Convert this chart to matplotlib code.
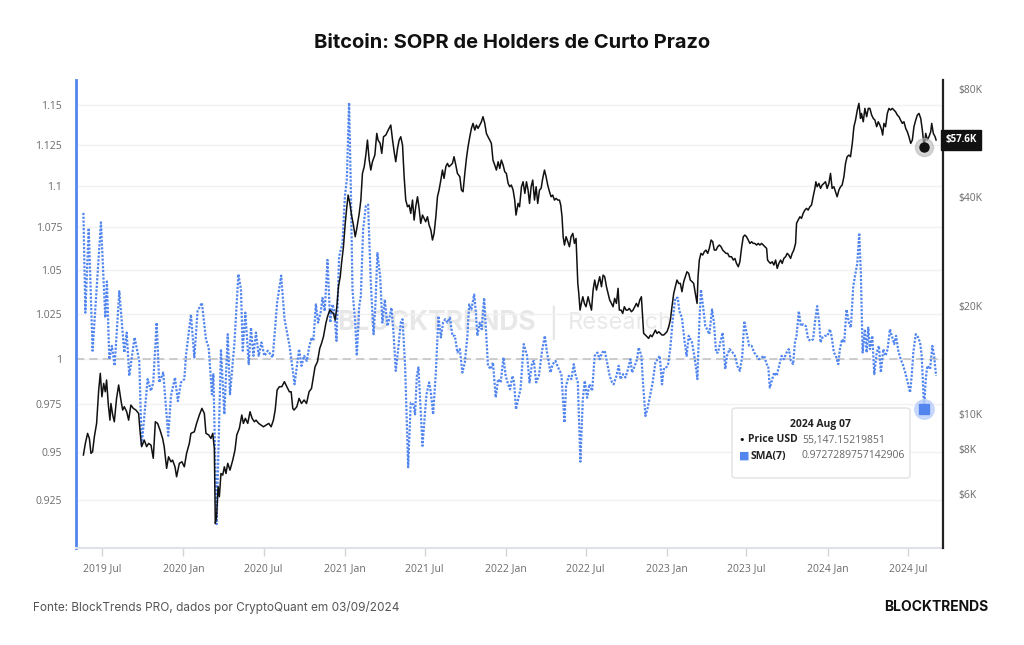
from datetime import datetime, timedelta

import matplotlib.pyplot as plt
from matplotlib.patches import FancyBboxPatch
from matplotlib.ticker import NullLocator
import matplotlib.transforms as mtransforms

# --- data (time as decimal year) ---
sopr_year = [
    2019.379, 2019.391, 2019.412, 2019.436, 2019.488, 2019.515, 2019.525, 2019.540, 2019.556, 2019.573,
    2019.602, 2019.633, 2019.648, 2019.664, 2019.697, 2019.726, 2019.741, 2019.778, 2019.799, 2019.813,
    2019.834, 2019.850, 2019.875, 2019.906, 2019.923, 2019.948, 2019.966, 2019.985, 2020.006, 2020.016,
    2020.047, 2020.068, 2020.088, 2020.115, 2020.140, 2020.157, 2020.177, 2020.186, 2020.206, 2020.233,
    2020.254, 2020.275, 2020.289, 2020.316, 2020.341, 2020.357, 2020.368, 2020.384, 2020.405, 2020.419,
    2020.434, 2020.450, 2020.467, 2020.484, 2020.502, 2020.523, 2020.554, 2020.581, 2020.606, 2020.627,
    2020.658, 2020.689, 2020.717, 2020.732, 2020.748, 2020.765, 2020.779, 2020.794, 2020.806, 2020.821,
    2020.835, 2020.852, 2020.862, 2020.876, 2020.893, 2020.910, 2020.924, 2020.934, 2020.949, 2020.965,
    2020.986, 2021.001, 2021.013, 2021.027, 2021.038, 2021.048, 2021.065, 2021.075, 2021.090, 2021.100,
    2021.114, 2021.131, 2021.145, 2021.162, 2021.179, 2021.191, 2021.203, 2021.220, 2021.234, 2021.249,
    2021.265, 2021.276, 2021.290, 2021.303, 2021.317, 2021.332, 2021.348, 2021.359, 2021.375, 2021.394,
    2021.410, 2021.427, 2021.437, 2021.448, 2021.458, 2021.472, 2021.483, 2021.497, 2021.508, 2021.524,
    2021.535, 2021.549, 2021.566, 2021.582, 2021.597, 2021.611, 2021.624, 2021.638, 2021.653, 2021.669,
    2021.684, 2021.700, 2021.715, 2021.731, 2021.746, 2021.762, 2021.773, 2021.787, 2021.804, 2021.814,
    2021.824, 2021.839, 2021.851, 2021.866, 2021.882, 2021.890, 2021.907, 2021.921, 2021.938, 2021.953,
    2021.969, 2021.986, 2022.000, 2022.015, 2022.027, 2022.042, 2022.052, 2022.064, 2022.077, 2022.092,
    2022.112, 2022.133, 2022.148, 2022.164, 2022.175, 2022.189, 2022.206, 2022.226, 2022.243, 2022.257,
    2022.278, 2022.292, 2022.309, 2022.330, 2022.346, 2022.365, 2022.375, 2022.392, 2022.408, 2022.423,
    2022.433, 2022.448, 2022.464, 2022.479, 2022.491, 2022.506, 2022.520, 2022.537, 2022.553, 2022.570,
    2022.584, 2022.599, 2022.615, 2022.630, 2022.646, 2022.661, 2022.671, 2022.688, 2022.702, 2022.713,
    2022.729, 2022.744, 2022.760, 2022.775, 2022.785, 2022.802, 2022.816, 2022.826, 2022.843, 2022.853,
    2022.868, 2022.882, 2022.899, 2022.913, 2022.930, 2022.944, 2022.957, 2022.971, 2022.982, 2022.992,
    2023.009, 2023.023, 2023.038, 2023.054, 2023.069, 2023.079, 2023.095, 2023.112, 2023.124, 2023.137,
    2023.158, 2023.178, 2023.191, 2023.203, 2023.213, 2023.226, 2023.240, 2023.251, 2023.265, 2023.282,
    2023.294, 2023.307, 2023.319, 2023.333, 2023.348, 2023.364, 2023.375, 2023.391, 2023.410, 2023.424,
    2023.439, 2023.455, 2023.470, 2023.482, 2023.496, 2023.513, 2023.528, 2023.544, 2023.559, 2023.573,
    2023.590, 2023.606, 2023.621, 2023.631, 2023.641, 2023.656, 2023.668, 2023.683, 2023.699, 2023.714,
    2023.728, 2023.745, 2023.759, 2023.772, 2023.786, 2023.797, 2023.807, 2023.821, 2023.834, 2023.848,
    2023.865, 2023.879, 2023.894, 2023.910, 2023.921, 2023.935, 2023.948, 2023.956, 2023.968, 2023.983,
    2023.999, 2024.014, 2024.024, 2024.039, 2024.051, 2024.066, 2024.076, 2024.090, 2024.103, 2024.117,
    2024.132, 2024.144, 2024.159, 2024.169, 2024.184, 2024.196, 2024.206, 2024.217, 2024.231, 2024.242,
    2024.252, 2024.262, 2024.277, 2024.289, 2024.304, 2024.318, 2024.330, 2024.345, 2024.359, 2024.372,
    2024.386, 2024.401, 2024.413, 2024.424, 2024.438, 2024.453, 2024.469, 2024.484, 2024.496, 2024.511,
    2024.521, 2024.531, 2024.546, 2024.556, 2024.573, 2024.583, 2024.598, 2024.608, 2024.618, 2024.635,
    2024.649, 2024.660, 2024.672,
]
sopr_val = [
    1.0836, 1.0256, 1.0746, 1.0043, 1.0780, 1.0228, 1.0434, 0.9996, 1.0070, 0.9960,
    1.0378, 1.0033, 1.0144, 0.9905, 1.0117, 0.9987, 0.9530, 0.9887, 0.9823, 0.9869,
    1.0200, 0.9869, 0.9923, 0.9583, 0.9796, 0.9896, 0.9768, 0.9869, 0.9887, 1.0015,
    1.0246, 1.0006, 1.0265, 1.0312, 1.0107, 1.0061, 0.9805, 0.9914, 0.9127, 1.0052,
    0.9697, 1.0135, 0.9805, 1.0080, 1.0476, 1.0387, 1.0043, 1.0256, 0.9969, 1.0172,
    1.0015, 1.0144, 1.0015, 1.0089, 1.0015, 1.0043, 1.0006, 1.0312, 1.0468, 1.0219,
    1.0070, 0.9859, 1.0052, 0.9960, 1.0015, 0.9987, 1.0061, 1.0117, 1.0098, 1.0303,
    1.0200, 1.0265, 1.0340, 1.0265, 1.0559, 1.0200, 1.0303, 1.0274, 1.0098, 1.0579,
    1.0657, 1.0936, 1.1037, 1.1515, 1.0976, 1.0387, 1.0200, 1.0015, 1.0293, 1.0350,
    1.0736, 1.0876, 1.0886, 1.0424, 1.0135, 1.0312, 1.0599, 1.0462, 1.0200, 1.0331,
    1.0181, 1.0219, 1.0284, 1.0144, 0.9932, 1.0052, 1.0200, 1.0219, 0.9960, 0.9418,
    0.9759, 0.9750, 0.9697, 0.9905, 0.9951, 0.9715, 0.9530, 0.9688, 0.9805, 0.9869,
    0.9814, 0.9697, 0.9923, 1.0237, 1.0117, 1.0200, 1.0219, 1.0200, 1.0228, 1.0126,
    1.0126, 1.0033, 1.0052, 0.9923, 0.9978, 1.0126, 1.0303, 1.0274, 1.0359, 1.0265,
    1.0126, 1.0200, 1.0163, 1.0340, 1.0089, 0.9960, 0.9942, 0.9978, 0.9787, 0.9887,
    0.9869, 1.0006, 0.9905, 0.9859, 0.9832, 0.9905, 0.9869, 0.9724, 0.9777, 0.9832,
    1.0080, 1.0015, 0.9869, 0.9978, 0.9987, 0.9869, 0.9905, 1.0043, 1.0126, 1.0033,
    0.9923, 0.9969, 0.9987, 0.9942, 0.9914, 0.9653, 0.9850, 0.9905, 0.9887, 0.9969,
    0.9914, 0.9869, 0.9447, 0.9777, 0.9878, 0.9786, 0.9859, 0.9823, 1.0015, 1.0033,
    0.9996, 1.0033, 1.0043, 0.9978, 0.9905, 0.9869, 0.9859, 0.9905, 0.9960, 0.9887,
    0.9914, 0.9896, 0.9942, 0.9996, 0.9923, 0.9960, 0.9996, 1.0061, 1.0015, 0.9869,
    0.9688, 0.9732, 0.9805, 0.9869, 0.9978, 0.9996, 1.0015, 0.9859, 0.9942, 0.9942,
    0.9969, 1.0061, 1.0219, 1.0340, 1.0340, 1.0265, 1.0228, 1.0089, 1.0015, 1.0126,
    1.0089, 0.9978, 0.9887, 1.0200, 1.0387, 1.0293, 1.0181, 1.0163, 1.0135, 1.0274,
    1.0200, 1.0033, 1.0033, 1.0089, 1.0144, 0.9942, 1.0015, 1.0052, 1.0033, 1.0015,
    0.9960, 0.9932, 1.0015, 1.0209, 1.0144, 1.0070, 1.0070, 1.0033, 1.0015, 0.9996,
    1.0006, 1.0015, 0.9969, 0.9960, 0.9841, 0.9887, 0.9923, 0.9905, 0.9960, 1.0015,
    0.9996, 1.0033, 1.0052, 0.9987, 0.9969, 1.0089, 1.0126, 1.0265, 1.0181, 1.0191,
    1.0181, 1.0107, 1.0098, 1.0107, 1.0200, 1.0293, 1.0200, 1.0089, 1.0117, 1.0126,
    1.0126, 1.0163, 1.0126, 1.0033, 1.0015, 0.9969, 1.0052, 1.0107, 1.0089, 1.0274,
    1.0200, 1.0172, 1.0406, 1.0462, 1.0539, 1.0717, 1.0481, 1.0033, 1.0163, 1.0033,
    1.0172, 1.0052, 1.0126, 0.9914, 1.0033, 1.0070, 0.9923, 1.0052, 1.0015, 1.0052,
    1.0163, 1.0117, 1.0080, 1.0126, 1.0043, 0.9996, 0.9960, 0.9914, 0.9869, 0.9814,
    0.9905, 1.0033, 1.0135, 1.0126, 1.0089, 1.0015, 0.9727, 0.9887, 0.9960, 0.9942,
    1.0070, 1.0015, 0.9905,
]

price_year = [
    2019.379, 2019.391, 2019.405, 2019.416, 2019.426, 2019.436, 2019.447, 2019.461, 2019.474, 2019.484,
    2019.494, 2019.505, 2019.515, 2019.523, 2019.534, 2019.544, 2019.550, 2019.561, 2019.571, 2019.585,
    2019.598, 2019.612, 2019.623, 2019.633, 2019.648, 2019.660, 2019.674, 2019.689, 2019.705, 2019.722,
    2019.732, 2019.741, 2019.757, 2019.772, 2019.784, 2019.799, 2019.813, 2019.826, 2019.840, 2019.855,
    2019.871, 2019.881, 2019.896, 2019.908, 2019.923, 2019.933, 2019.948, 2019.958, 2019.975, 2019.991,
    2020.006, 2020.020, 2020.037, 2020.047, 2020.068, 2020.082, 2020.099, 2020.115, 2020.130, 2020.140,
    2020.157, 2020.171, 2020.182, 2020.192, 2020.198, 2020.206, 2020.215, 2020.223, 2020.233, 2020.244,
    2020.254, 2020.264, 2020.275, 2020.289, 2020.306, 2020.320, 2020.331, 2020.347, 2020.362, 2020.372,
    2020.384, 2020.399, 2020.413, 2020.426, 2020.440, 2020.450, 2020.467, 2020.482, 2020.496, 2020.513,
    2020.529, 2020.544, 2020.558, 2020.569, 2020.581, 2020.595, 2020.610, 2020.626, 2020.641, 2020.657,
    2020.668, 2020.678, 2020.686, 2020.703, 2020.717, 2020.732, 2020.748, 2020.763, 2020.779, 2020.794,
    2020.806, 2020.816, 2020.831, 2020.845, 2020.856, 2020.868, 2020.883, 2020.893, 2020.907, 2020.918,
    2020.930, 2020.941, 2020.951, 2020.961, 2020.972, 2020.980, 2020.992, 2021.003, 2021.013, 2021.021,
    2021.032, 2021.042, 2021.054, 2021.065, 2021.075, 2021.090, 2021.100, 2021.110, 2021.121, 2021.131,
    2021.141, 2021.152, 2021.162, 2021.172, 2021.187, 2021.199, 2021.207, 2021.220, 2021.230, 2021.241,
    2021.255, 2021.270, 2021.286, 2021.297, 2021.307, 2021.317, 2021.328, 2021.338, 2021.348, 2021.359,
    2021.369, 2021.379, 2021.390, 2021.400, 2021.410, 2021.421, 2021.431, 2021.441, 2021.452, 2021.462,
    2021.472, 2021.483, 2021.493, 2021.503, 2021.514, 2021.524, 2021.535, 2021.545, 2021.555, 2021.566,
    2021.576, 2021.586, 2021.597, 2021.607, 2021.617, 2021.628, 2021.638, 2021.648, 2021.659, 2021.669,
    2021.679, 2021.690, 2021.700, 2021.715, 2021.725, 2021.735, 2021.746, 2021.756, 2021.766, 2021.777,
    2021.787, 2021.797, 2021.808, 2021.818, 2021.828, 2021.839, 2021.849, 2021.859, 2021.870, 2021.880,
    2021.890, 2021.901, 2021.911, 2021.921, 2021.932, 2021.942, 2021.953, 2021.963, 2021.973, 2021.984,
    2021.994, 2022.004, 2022.015, 2022.025, 2022.035, 2022.046, 2022.056, 2022.064, 2022.077, 2022.086,
    2022.098, 2022.108, 2022.119, 2022.129, 2022.139, 2022.148, 2022.158, 2022.168, 2022.179, 2022.189,
    2022.199, 2022.210, 2022.220, 2022.230, 2022.241, 2022.251, 2022.261, 2022.272, 2022.282, 2022.292,
    2022.303, 2022.313, 2022.324, 2022.334, 2022.342, 2022.350, 2022.357, 2022.365, 2022.375, 2022.386,
    2022.396, 2022.406, 2022.417, 2022.427, 2022.437, 2022.448, 2022.454, 2022.462, 2022.470, 2022.479,
    2022.489, 2022.499, 2022.512, 2022.522, 2022.533, 2022.543, 2022.553, 2022.564, 2022.574, 2022.584,
    2022.595, 2022.605, 2022.615, 2022.626, 2022.636, 2022.646, 2022.657, 2022.667, 2022.677, 2022.688,
    2022.698, 2022.706, 2022.717, 2022.727, 2022.737, 2022.748, 2022.758, 2022.768, 2022.781, 2022.791,
    2022.802, 2022.812, 2022.822, 2022.833, 2022.843, 2022.851, 2022.857, 2022.868, 2022.878, 2022.888,
    2022.899, 2022.909, 2022.920, 2022.930, 2022.940, 2022.951, 2022.961, 2022.971, 2022.982, 2022.992,
    2023.002, 2023.013, 2023.023, 2023.033, 2023.044, 2023.054, 2023.064, 2023.075, 2023.085, 2023.095,
    2023.106, 2023.116, 2023.126, 2023.137, 2023.147, 2023.158, 2023.168, 2023.178, 2023.189, 2023.195,
    2023.203, 2023.213, 2023.224, 2023.234, 2023.244, 2023.255, 2023.265, 2023.276, 2023.286, 2023.296,
    2023.307, 2023.317, 2023.327, 2023.338, 2023.348, 2023.358, 2023.369, 2023.379, 2023.389, 2023.403,
    2023.414, 2023.424, 2023.434, 2023.445, 2023.455, 2023.465, 2023.476, 2023.486, 2023.496, 2023.507,
    2023.517, 2023.528, 2023.538, 2023.548, 2023.559, 2023.569, 2023.579, 2023.590, 2023.600, 2023.610,
    2023.621, 2023.627, 2023.635, 2023.645, 2023.656, 2023.666, 2023.677, 2023.687, 2023.697, 2023.708,
    2023.718, 2023.728, 2023.739, 2023.749, 2023.759, 2023.770, 2023.780, 2023.790, 2023.801, 2023.807,
    2023.817, 2023.828, 2023.838, 2023.848, 2023.859, 2023.869, 2023.879, 2023.890, 2023.900, 2023.910,
    2023.921, 2023.927, 2023.935, 2023.946, 2023.956, 2023.966, 2023.977, 2023.987, 2023.997, 2024.008,
    2024.018, 2024.028, 2024.039, 2024.049, 2024.059, 2024.070, 2024.080, 2024.090, 2024.101, 2024.111,
    2024.121, 2024.132, 2024.142, 2024.153, 2024.163, 2024.173, 2024.184, 2024.194, 2024.204, 2024.210,
    2024.221, 2024.231, 2024.242, 2024.252, 2024.262, 2024.273, 2024.283, 2024.293, 2024.304, 2024.314,
    2024.324, 2024.335, 2024.341, 2024.349, 2024.359, 2024.370, 2024.380, 2024.390, 2024.401, 2024.411,
    2024.421, 2024.432, 2024.442, 2024.452, 2024.463, 2024.473, 2024.484, 2024.494, 2024.504, 2024.515,
    2024.525, 2024.535, 2024.546, 2024.556, 2024.566, 2024.577, 2024.587, 2024.598, 2024.608, 2024.618,
    2024.628, 2024.639, 2024.645, 2024.655, 2024.666, 2024.672,
]
price_usd = [
    7698, 8290, 8840, 8560, 7780, 7860, 8650, 9420, 11660, 12970,
    11170, 12160, 11530, 12430, 10590, 9620, 10700, 9940, 9520, 11050,
    12040, 10940, 10260, 10480, 10150, 9620, 10590, 10370, 10260, 10040,
    8840, 8120, 8470, 8120, 8290, 8200, 7540, 9520, 9420, 9030,
    8560, 8120, 7070, 7610, 7370, 7450, 7140, 6700, 7300, 7370,
    7140, 7780, 8290, 8840, 8930, 9420, 9940, 10370, 10040, 8840,
    8750, 8560, 8840, 8030, 4970, 5190, 6290, 5900, 6840, 6770,
    7140, 6840, 7300, 6990, 7450, 7950, 8750, 9130, 9940, 9420,
    9730, 9420, 10150, 9730, 9520, 9620, 9420, 9320, 9220, 9320,
    9420, 9220, 9620, 10260, 11660, 11910, 11910, 12300, 11910, 11530,
    11530, 10370, 10260, 10480, 11050, 10700, 10940, 10700, 11530, 11780,
    12690, 13530, 13970, 15210, 15710, 16390, 17850, 18620, 19430, 19230,
    19020, 18230, 19850, 22560, 24050, 26180, 29120, 33810, 37600, 40510,
    38410, 35660, 33450, 31050, 32750, 36040, 39240, 46530, 48560, 52310,
    57570, 50660, 47530, 50130, 52310, 60080, 57570, 56370, 52870, 58810,
    59440, 61370, 63360, 57570, 53440, 50130, 54580, 57570, 58810, 55760,
    45550, 39240, 37600, 38010, 36040, 39240, 34530, 37600, 40080, 37210,
    33810, 35660, 34910, 34170, 35270, 33450, 32400, 30400, 31720, 35270,
    40080, 41830, 44590, 47530, 45070, 48560, 49600, 48560, 49070, 49600,
    51760, 49070, 46530, 45550, 41830, 41390, 46530, 51210, 55170, 58810,
    62030, 64040, 61370, 63360, 62030, 63360, 64720, 66830, 64040, 60080,
    58810, 57570, 56370, 50660, 49070, 47530, 50130, 48040, 50660, 49070,
    47030, 46530, 43650, 42730, 43190, 41830, 39240, 35660, 38410, 37600,
    42730, 44110, 40950, 44110, 41830, 38410, 42730, 44590, 39240, 42730,
    38410, 41830, 42280, 45070, 47530, 45550, 43190, 41390, 40080, 40510,
    39240, 39660, 39240, 39240, 38010, 35270, 31050, 29440, 31050, 30070,
    29120, 31050, 31720, 29750, 30720, 23040, 21620, 19430, 20280, 21160,
    20280, 19850, 21160, 20280, 19430, 22080, 23540, 22080, 23040, 24050,
    22560, 24300, 24050, 22560, 21620, 20720, 20280, 19850, 20940, 20280,
    22320, 19430, 19430, 19020, 19850, 19430, 19430, 19640, 19230, 19430,
    19850, 20280, 19850, 20720, 21160, 18620, 16740, 16570, 16390, 16220,
    16570, 16390, 16740, 17100, 16740, 16920, 16740, 16570, 16570, 16740,
    16920, 17470, 18230, 19850, 21620, 22560, 23540, 23040, 23040, 21850,
    23290, 24050, 24820, 24560, 23540, 23290, 23040, 21620, 20280, 24050,
    26750, 27910, 27620, 28210, 28510, 27910, 28820, 30400, 30070, 28510,
    28510, 29120, 29440, 29120, 28510, 28210, 27910, 27910, 27330, 27330,
    26750, 27030, 26180, 25630, 26460, 28820, 31050, 31380, 31050, 30400,
    29750, 30070, 29750, 29750, 29440, 29750, 29440, 29750, 29440, 29120,
    28820, 26750, 26460, 26180, 26460, 25910, 26750, 25360, 26180, 26750,
    26180, 27030, 27330, 27910, 27620, 27030, 27910, 28510, 29750, 33810,
    34530, 35270, 34910, 36040, 36810, 37210, 36810, 37600, 38010, 40080,
    42280, 44110, 42730, 43650, 42280, 43190, 43650, 44110, 42280, 43650,
    46530, 42280, 42730, 41390, 40080, 41830, 42730, 43190, 45550, 49600,
    51760, 52310, 51760, 56370, 62690, 65420, 69740, 72770, 66120, 68260,
    64720, 70480, 66830, 70480, 70480, 67540, 66120, 65420, 62690, 64720,
    63360, 61370, 59440, 64040, 62690, 68260, 70480, 69740, 70480, 69740,
    68990, 67540, 66830, 65420, 64040, 64720, 62030, 60720, 58810, 56370,
    57570, 62690, 65420, 67540, 68260, 66120, 61370, 55147, 60080, 57570,
    58810, 60720, 64040, 60080, 58810, 57600,
]

sopr_ticks = [0.925, 0.95, 0.975, 1, 1.025, 1.05, 1.075, 1.1, 1.125, 1.15]
sopr_tick_labels = ['0.925', '0.95', '0.975', '1', '1.025', '1.05', '1.075', '1.1', '1.125', '1.15']
price_ticks = [6000, 8000, 10000, 20000, 40000, 80000]
price_tick_labels = ['$6K', '$8K', '$10K', '$20K', '$40K', '$80K']
month_ticks = [(2019, 7), (2020, 1), (2020, 7), (2021, 1), (2021, 7), (2022, 1),
               (2022, 7), (2023, 1), (2023, 7), (2024, 1), (2024, 7)]
month_tick_labels = ['2019 Jul', '2020 Jan', '2020 Jul', '2021 Jan', '2021 Jul', '2022 Jan',
                     '2022 Jul', '2023 Jan', '2023 Jul', '2024 Jan', '2024 Jul']

hover_date = datetime(2024, 8, 7)
hover_price = 55147.15219851
hover_sopr = 0.9727289757142906
last_price_label = '$57.6K'
last_price = 57600


def to_date(yr):
    y = int(yr)
    start = datetime(y, 1, 1)
    ndays = (datetime(y + 1, 1, 1) - start).days
    return start + timedelta(days=(yr - y) * ndays)


BLUE = '#5286ee'
GREY = '#6b6b6b'

fig = plt.figure(figsize=(10.24, 6.45), dpi=100)
fig.patch.set_facecolor('white')

ax = fig.add_axes([76 / 1024, 1 - 548 / 645, (943 - 76) / 1024, (548 - 80) / 645])
ax.patch.set_alpha(0)
ax2 = ax.twinx()

sopr_dates = [to_date(v) for v in sopr_year]
price_dates = [to_date(v) for v in price_year]

# SOPR (left, log)
ax.set_yscale('log')
ax.set_ylim(0.9008, 1.166)
ax.yaxis.set_minor_locator(NullLocator())
ax.set_yticks(sopr_ticks)
ax.set_yticklabels(sopr_tick_labels)
ax.grid(axis='y', color='#f1f1f1', lw=1)
ax.set_axisbelow(True)
ax.axhline(1, color='#c4c4c4', lw=1.2, ls=(0, (5, 3)), zorder=1)
ax.plot(sopr_dates, sopr_val, color=BLUE, lw=1.6, ls=(0, (1, 0.7)), zorder=3)

# price (right, log)
ax2.set_yscale('log')
ax2.set_ylim(4250, 84500)
ax2.yaxis.set_minor_locator(NullLocator())
ax2.set_yticks(price_ticks)
ax2.set_yticklabels(price_tick_labels)
ax2.plot(price_dates, price_usd, color='#111111', lw=1.1, zorder=3)

ax.set_xlim(to_date(2019.333), to_date(2024.715))
ax.set_xticks([datetime(y, m, 1) for y, m in month_ticks])
ax.set_xticklabels(month_tick_labels)

ax.tick_params(axis='y', length=0, pad=10, labelsize=7.5, labelcolor=GREY)
ax2.tick_params(axis='y', length=0, pad=11, labelsize=7.5, labelcolor=GREY)
ax.tick_params(axis='x', length=6, width=1, color='#d4d4d4', pad=5, labelsize=7.5, labelcolor=GREY)
for lab in ax.get_xticklabels() + ax.get_yticklabels() + ax2.get_yticklabels():
    lab.set_family('Open Sans')

for a in (ax, ax2):
    a.spines['top'].set_visible(False)
ax.spines['right'].set_visible(False)
ax2.spines['left'].set_visible(False)
ax2.spines['bottom'].set_visible(False)
ax.spines['left'].set_color(BLUE)
ax.spines['left'].set_linewidth(2)
ax.spines['bottom'].set_color('#dfe1ea')
ax.spines['bottom'].set_linewidth(1.5)
ax2.spines['right'].set_color('#222222')
ax2.spines['right'].set_linewidth(1.6)

# watermark
ax.text(437 / 1024, 1 - 323 / 645, 'BLOCKTRENDS', transform=fig.transFigure, ha='center', va='center',
        fontsize=19, fontweight='bold', color='#e7e7e7', family='Inter', zorder=0)
ax.text(553 / 1024, 1 - 323 / 645, '|', transform=fig.transFigure, ha='center', va='center',
        fontsize=21, color='#e7e7e7', family='Inter', zorder=0)
ax.text(620 / 1024, 1 - 323 / 645, 'Research', transform=fig.transFigure, ha='center', va='center',
        fontsize=17, color='#e9e9e9', family='Inter', zorder=0)

# hover markers
ax2.plot([hover_date], [hover_price], 'o', ms=13, color='#b8b8b8', alpha=0.6, zorder=5, clip_on=False)
ax2.plot([hover_date], [hover_price], 'o', ms=6.5, color='#111111', zorder=6, clip_on=False)
hover_y = ax2.transData.inverted().transform(ax.transData.transform((0, hover_sopr)))[1]
ax2.plot([hover_date], [hover_y], 'o', ms=14, color='#bcd0fa', alpha=0.8, zorder=5, clip_on=False)
ax2.plot([hover_date], [hover_y], 's', ms=7, color=BLUE, zorder=6, clip_on=False)

# last price label on right axis
trans = mtransforms.blended_transform_factory(ax2.transAxes, ax2.transData)
ax2.text(1.003, last_price, last_price_label, transform=trans, ha='left', va='center', fontsize=7,
         fontweight='bold', color='white', family='Open Sans',
         bbox=dict(boxstyle='square,pad=0.45', fc='#111111', ec='#111111'), zorder=7, clip_on=False)

# tooltip
box = FancyBboxPatch((732 / 1024, 1 - 478 / 645), 178 / 1024, 70 / 645,
                     boxstyle='round,pad=0,rounding_size=0.004', transform=fig.transFigure,
                     fc='white', ec='#e2e2e2', lw=1, zorder=8, clip_on=False)
ax2.add_patch(box)
ftx = fig.transFigure
ax2.text(821 / 1024, 1 - 424 / 645, hover_date.strftime('%Y %b %d'), transform=ftx, ha='center',
         va='center', fontsize=7.5, fontweight='bold', color='#222', family='Open Sans', zorder=9)
ax2.text(742 / 1024, 1 - 440 / 645, '\u2022', transform=ftx, ha='center', va='center',
         fontsize=8, color='#111', zorder=9)
ax2.text(748 / 1024, 1 - 440 / 645, 'Price USD', transform=ftx, ha='left', va='center',
         fontsize=7.5, fontweight='bold', color='#222', family='Open Sans', zorder=9)
ax2.text(802 / 1024, 1 - 440 / 645, f'{hover_price:,.8f}', transform=ftx, ha='left', va='center',
         fontsize=7.5, color='#666', family='Open Sans', zorder=9)
ax2.text(744 / 1024, 1 - 456 / 645, '\u25A0', transform=ftx, ha='center', va='center',
         fontsize=8, color=BLUE, zorder=9)
ax2.text(751 / 1024, 1 - 456 / 645, 'SMA(7)', transform=ftx, ha='left', va='center',
         fontsize=7.5, fontweight='bold', color='#222', family='Open Sans', zorder=9)
ax2.text(802 / 1024, 1 - 456 / 645, repr(hover_sopr), transform=ftx, ha='left', va='center',
         fontsize=7.5, color='#666', family='Open Sans', zorder=9)

# title and footer
fig.text(0.5, 1 - 43 / 645, 'Bitcoin: SOPR de Holders de Curto Prazo', ha='center', va='center',
         fontsize=14.5, fontweight='bold', color='#111', family='Inter')
fig.text(33 / 1024, 1 - 607 / 645, 'Fonte: BlockTrends PRO, dados por CryptoQuant em 03/09/2024',
         ha='left', va='center', fontsize=8.5, color='#555', family='Inter')
fig.text(988 / 1024, 1 - 607 / 645, 'BLOCKTRENDS', ha='right', va='center', fontsize=10,
         fontweight='bold', color='#111', family='Inter')

fig.savefig('out.png', dpi=100, facecolor='white')
